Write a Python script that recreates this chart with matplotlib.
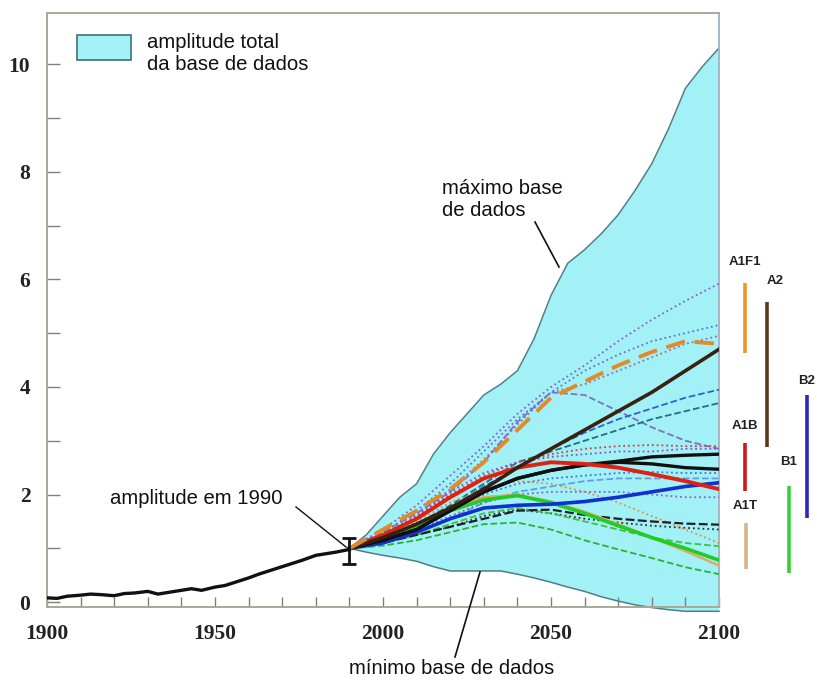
import matplotlib
matplotlib.use("Agg")
import matplotlib.pyplot as plt
from matplotlib.patches import Rectangle

# ---------------- data ----------------
hist_years = [1900, 1903, 1906, 1910, 1913, 1916, 1920, 1923, 1926, 1930, 1933, 1936,
              1940, 1943, 1946, 1950, 1953, 1956, 1960, 1963, 1966, 1970, 1973, 1976,
              1980, 1983, 1986, 1990]
hist_vals = [0.08, 0.07, 0.11, 0.13, 0.15, 0.14, 0.12, 0.16, 0.17, 0.20, 0.15, 0.18,
             0.22, 0.25, 0.22, 0.28, 0.31, 0.37, 0.45, 0.52, 0.58, 0.66, 0.72, 0.78,
             0.87, 0.90, 0.93, 0.98]

env_years = [1990, 1995, 2000, 2005, 2010, 2015, 2020, 2025, 2030, 2035, 2040, 2045,
             2050, 2055, 2060, 2065, 2070, 2075, 2080, 2085, 2090, 2095, 2100]
env_max = [1.0, 1.25, 1.6, 1.95, 2.2, 2.75, 3.15, 3.5, 3.85, 4.05, 4.3, 4.9,
           5.7, 6.3, 6.55, 6.85, 7.2, 7.65, 8.15, 8.8, 9.55, 9.95, 10.3]
env_min = [1.0, 0.93, 0.87, 0.82, 0.76, 0.66, 0.58, 0.58, 0.58, 0.58, 0.52, 0.45,
           0.37, 0.28, 0.20, 0.10, 0.02, -0.05, -0.10, -0.14, -0.17, -0.17, -0.17]

proj_years = [1990, 2000, 2010, 2020, 2030, 2040, 2050, 2060, 2070, 2080, 2090, 2100]

# thick scenario illustrative curves
a1fi_vals = [1.0, 1.35, 1.7, 2.1, 2.6, 3.2, 3.8, 4.1, 4.4, 4.65, 4.85, 4.8]
a2_vals = [1.0, 1.2, 1.45, 1.75, 2.1, 2.5, 2.85, 3.2, 3.55, 3.9, 4.3, 4.7]
a1b_vals = [1.0, 1.25, 1.55, 1.95, 2.3, 2.5, 2.6, 2.57, 2.5, 2.38, 2.25, 2.1]
black1_vals = [1.0, 1.15, 1.35, 1.7, 2.05, 2.3, 2.45, 2.55, 2.62, 2.7, 2.73, 2.75]
black2_vals = [1.0, 1.15, 1.35, 1.7, 2.05, 2.3, 2.45, 2.55, 2.6, 2.57, 2.5, 2.47]
b2_vals = [1.0, 1.1, 1.3, 1.55, 1.75, 1.8, 1.82, 1.87, 1.95, 2.05, 2.15, 2.22]
b1_vals = [1.0, 1.15, 1.4, 1.7, 1.9, 1.98, 1.85, 1.65, 1.42, 1.2, 1.0, 0.78]
a1t_vals = [1.0, 1.2, 1.45, 1.75, 1.95, 2.0, 1.87, 1.68, 1.45, 1.2, 0.95, 0.68]
dark_low_vals = [1.0, 1.1, 1.25, 1.4, 1.55, 1.7, 1.72, 1.62, 1.55, 1.5, 1.46, 1.44]

# thin dotted / dashed model runs
thin_runs = [
    [1.0, 1.35, 1.8, 2.35, 2.9, 3.5, 4.0, 4.4, 4.85, 5.25, 5.6, 5.92],
    [1.0, 1.3, 1.7, 2.2, 2.8, 3.4, 3.9, 4.3, 4.6, 4.85, 5.0, 5.15],
    [1.0, 1.3, 1.65, 2.1, 2.65, 3.3, 3.9, 4.05, 4.3, 4.55, 4.8, 4.95],
    [1.0, 1.3, 1.65, 2.05, 2.6, 3.35, 3.9, 3.85, 3.55, 3.25, 3.0, 2.85],
    [1.0, 1.2, 1.45, 1.75, 2.15, 2.5, 2.85, 3.15, 3.4, 3.6, 3.8, 3.95],
    [1.0, 1.2, 1.45, 1.8, 2.2, 2.6, 2.8, 3.0, 3.2, 3.4, 3.55, 3.7],
    [1.0, 1.25, 1.6, 2.0, 2.35, 2.6, 2.75, 2.85, 2.9, 2.92, 2.9, 2.9],
    [1.0, 1.25, 1.6, 2.05, 2.4, 2.6, 2.7, 2.75, 2.8, 2.8, 2.85, 2.85],
    [1.0, 1.15, 1.4, 1.7, 2.0, 2.2, 2.3, 2.35, 2.4, 2.42, 2.4, 2.4],
    [1.0, 1.1, 1.3, 1.55, 1.85, 2.05, 2.15, 2.25, 2.3, 2.3, 2.3, 2.3],
    [1.0, 1.1, 1.25, 1.4, 1.6, 1.72, 1.65, 1.55, 1.48, 1.42, 1.38, 1.35],
    [1.0, 1.05, 1.15, 1.3, 1.45, 1.48, 1.35, 1.15, 0.98, 0.82, 0.65, 0.52],
    [1.0, 1.1, 1.25, 1.45, 1.65, 1.75, 1.65, 1.5, 1.35, 1.2, 1.1, 1.04],
    [1.0, 1.2, 1.5, 1.85, 2.1, 2.25, 2.2, 2.05, 1.85, 1.6, 1.35, 1.1],
    [1.0, 1.15, 1.35, 1.6, 1.85, 2.0, 2.05, 2.05, 2.05, 2.0, 1.95, 1.95],
]
thin_colors = ['#8a60c8', '#6a70d0', '#9070b0', '#8070c0', '#3060d0', '#207080',
               '#d04040', '#9050c0', '#4070e0', '#60a0e0', '#303030', '#30b030',
               '#40c040', '#e09040', '#9060c0']
thin_styles = [':', ':', ':', '--', '--', '--', ':', ':', ':', '--', ':', '--',
               '--', ':', ':']

# scenario ranges in 2100 (bars to the right of the plot)
range_labels = ['A1F1', 'A2', 'B2', 'A1B', 'B1', 'A1T']
range_low = [4.63, 2.89, 1.57, 2.06, 0.55, 0.61]
range_high = [5.93, 5.57, 3.85, 2.96, 2.15, 1.48]
range_pos = [2107.7, 2114.3, 2126.2, 2107.7, 2120.8, 2107.9]
range_colors = ['#e8962a', '#5a3a18', '#2828c0', '#d01818', '#38d038', '#d8b488']

err_year = 1990
err_low, err_high, err_mid = 0.70, 1.20, 0.97

# ---------------- figure ----------------
fig = plt.figure(figsize=(8.17, 6.82), dpi=100)
ax = fig.add_axes([47 / 817, 75 / 682, 672 / 817, 594 / 682])
ax.set_xlim(1900, 2100)
ax.set_ylim(-0.09, 10.95)

fill_c = '#a2f1f6'
edge_c = '#4f7f86'
ax.fill_between(env_years, env_min, env_max, color=fill_c, lw=0, clip_on=False, zorder=1)
ax.plot(env_years, env_max, color=edge_c, lw=1.1, zorder=2)
ax.plot(env_years, env_min, color=edge_c, lw=1.1, zorder=2, clip_on=False)

for vals, c, ls in zip(thin_runs, thin_colors, thin_styles):
    ax.plot(proj_years, vals, color=c, lw=1.3, ls=ls, zorder=3)

ax.plot(proj_years, dark_low_vals, color='#202020', lw=1.6, ls=(0, (4, 1.5)), zorder=4)
ax.plot(proj_years, a1t_vals, color='#e0a868', lw=1.8, zorder=4)
ax.plot(proj_years, b1_vals, color='#22cc22', lw=2.6, zorder=5)
ax.plot(proj_years, b2_vals, color='#1030d0', lw=2.6, zorder=5)
ax.plot(proj_years, black2_vals, color='#101010', lw=2.4, zorder=5)
ax.plot(proj_years, black1_vals, color='#101010', lw=2.4, zorder=5)
ax.plot(proj_years, a1b_vals, color='#e02010', lw=2.8, zorder=5)
ax.plot(proj_years, a2_vals, color='#3a2010', lw=2.6, zorder=6)
ax.plot(proj_years, a1fi_vals, color='#e08a28', lw=2.8, ls=(0, (5, 2.5)), zorder=6)

# historic record
ax.plot(hist_years, hist_vals, color='#111111', lw=2.4, zorder=7)
ax.errorbar([err_year], [err_mid], yerr=[[err_mid - err_low], [err_high - err_mid]],
            fmt='none', ecolor='#111111', elinewidth=2.0, capsize=5, capthick=2.0, zorder=8)

# scenario range bars
for lab, lo, hi, xp, c in zip(range_labels, range_low, range_high, range_pos, range_colors):
    ax.plot([xp, xp], [lo, hi], color=c, lw=2.6, solid_capstyle='butt', clip_on=False)
label_offsets = {'A1F1': 0.28, 'A2': 0.28, 'B2': 0.15, 'A1B': 0.2, 'B1': 0.35, 'A1T': 0.2}
for lab, hi, xp in zip(range_labels, range_high, range_pos):
    ax.text(xp, hi + label_offsets[lab], lab, ha='center' if lab not in ('A2',) else 'left',
            va='bottom', fontsize=9.5, fontweight='bold', family='Liberation Sans',
            color='#222222', clip_on=False)

# ---------------- axes styling ----------------
spine_c = '#a8a898'
for s in ['left', 'bottom', 'top']:
    ax.spines[s].set_color(spine_c)
    ax.spines[s].set_linewidth(1.4)
ax.spines['right'].set_color('#a0b8c8')
ax.spines['right'].set_linewidth(1.4)

ax.set_xticks([1900, 1950, 2000, 2050, 2100])
ax.set_xticks(list(range(1910, 2100, 10)), minor=True)
ax.set_yticks([0, 2, 4, 6, 8, 10])
ax.set_yticks([1, 3, 5, 7, 9], minor=True)
ax.tick_params(axis='both', which='both', direction='in', color='#808080', width=1.0)
ax.tick_params(axis='y', which='both', length=9, pad=12)
ax.tick_params(axis='x', which='both', length=7, pad=12)
for lbl in ax.get_xticklabels() + ax.get_yticklabels():
    lbl.set_family('Liberation Serif')
    lbl.set_fontsize(15.5)
    lbl.set_fontweight('bold')
    lbl.set_color('#222222')

# ---------------- legend box ----------------
ax.add_patch(Rectangle((77 / 817, 1 - 60 / 682), 54 / 817, 25 / 682, transform=fig.transFigure,
                       facecolor='#a2f1f6', edgecolor='#3f6f76', lw=1.2, zorder=10,
                       clip_on=False))
fig.text(147 / 817, 1 - 54 / 682, 'amplitude total\nda base de dados', fontsize=14.6,
         family='Liberation Sans', va='center', ha='left', linespacing=1.2, color='#111111')

# ---------------- annotations ----------------
def px(x, y):
    return (x / 817, 1 - y / 682)

fig.text(*px(442, 200), 'máximo base\nde dados', fontsize=14.6, family='Liberation Sans',
         va='center', ha='left', linespacing=1.2, color='#111111')
fig.add_artist(plt.Line2D([535 / 817, 559 / 817], [1 - 222 / 682, 1 - 267 / 682],
                          color='#111111', lw=1.2))

fig.text(*px(283, 498), 'amplitude em 1990', fontsize=14.6, family='Liberation Sans',
         va='center', ha='right', color='#111111')
fig.add_artist(plt.Line2D([296 / 817, 346 / 817], [1 - 507 / 682, 1 - 547 / 682],
                          color='#111111', lw=1.0))

fig.text(*px(452, 669), 'mínimo base de dados', fontsize=14.6, family='Liberation Sans',
         va='center', ha='center', color='#111111')
fig.add_artist(plt.Line2D([455 / 817, 480 / 817], [1 - 657 / 682, 1 - 572 / 682],
                          color='#111111', lw=1.2))

fig.savefig('out.png', dpi=100)
